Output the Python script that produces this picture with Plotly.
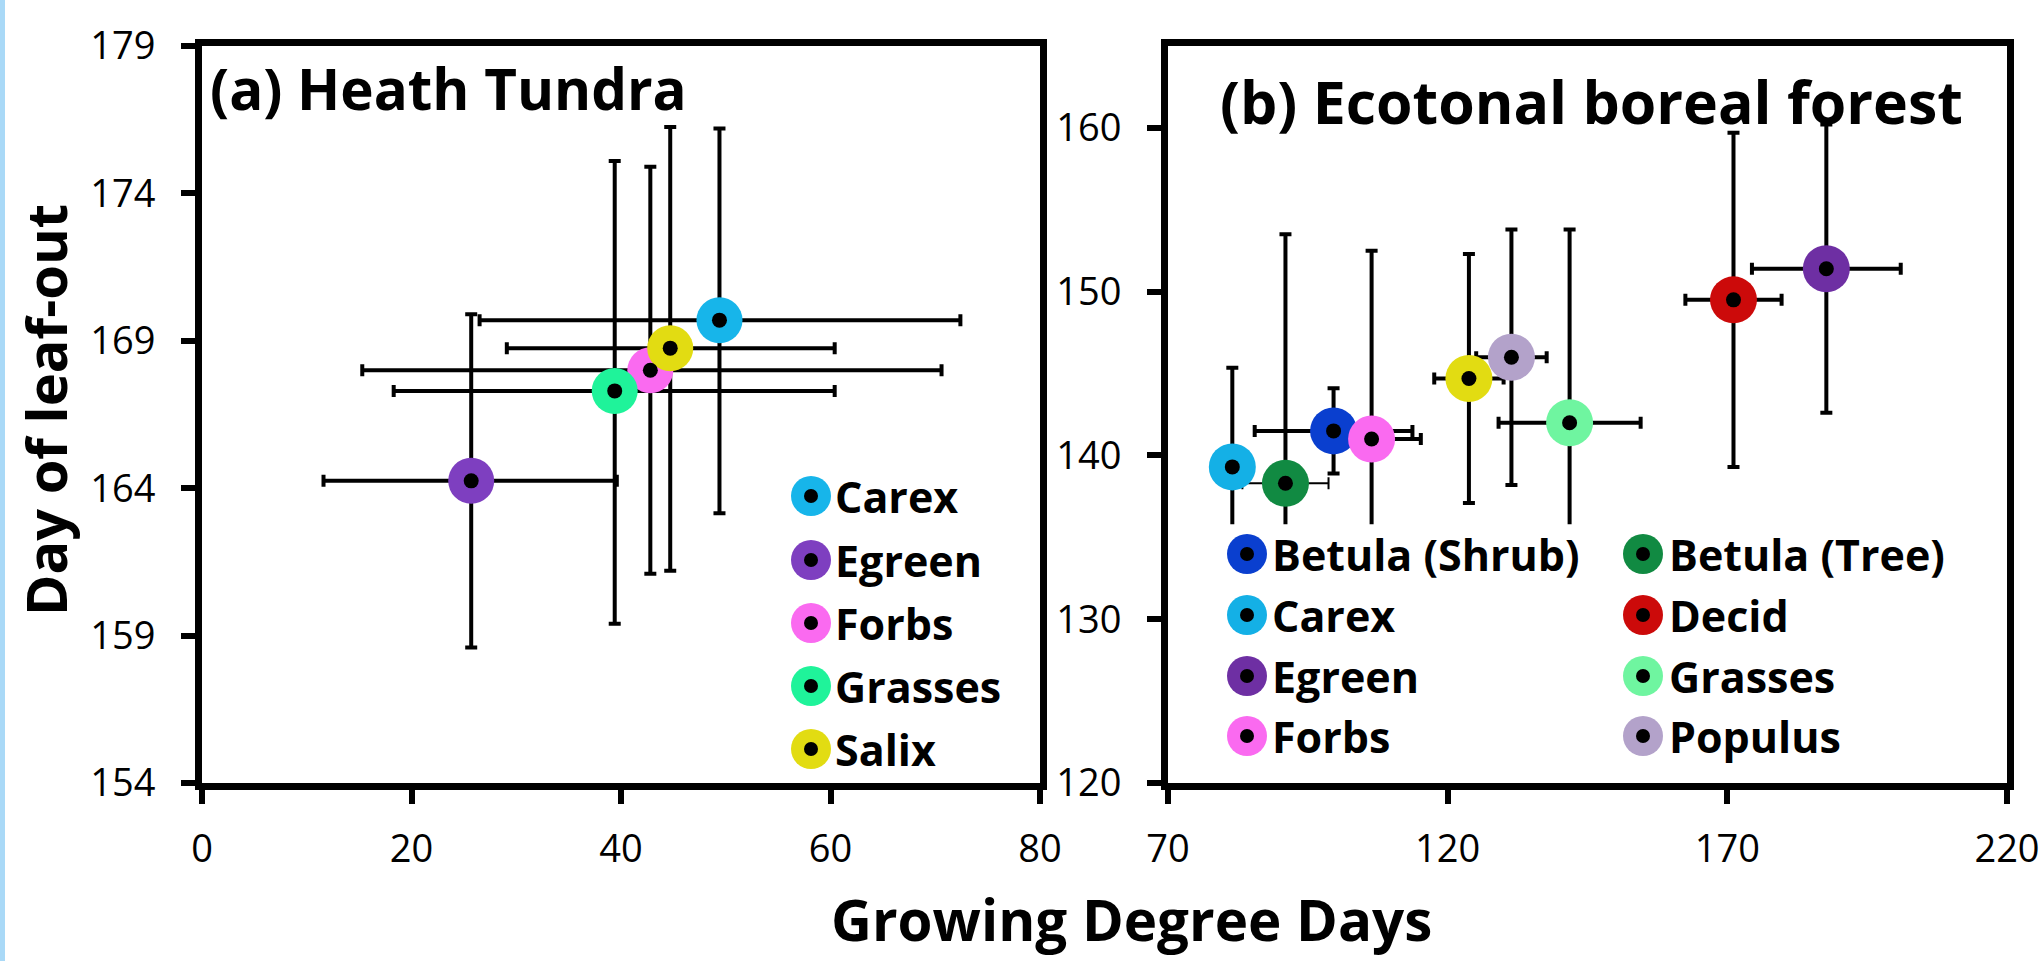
import plotly.graph_objects as go

W, H = 2039, 961

# ---------------- data: panel (a) Heath Tundra ----------------
a_species = ["Carex", "Egreen", "Forbs", "Grasses", "Salix"]
a_gdd = [49.4, 25.7, 42.8, 39.4, 44.7]
a_gdd_err_plus = [23.0, 13.9, 27.8, 21.0, 15.7]
a_gdd_err_minus = [22.9, 14.1, 27.5, 21.1, 15.6]
a_day = [169.7, 164.25, 168.0, 167.3, 168.75]
a_day_err_plus = [6.5, 5.65, 6.9, 7.8, 7.5]
a_day_err_minus = [6.55, 5.65, 6.9, 7.9, 7.55]

# ---------------- data: panel (b) Ecotonal boreal forest ----------------
b_species = ["Carex", "Betula (Tree)", "Betula (Shrub)", "Forbs", "Salix",
             "Populus", "Grasses", "Decid", "Egreen"]
b_gdd = [81.5, 91.0, 99.6, 106.4, 123.8, 131.4, 141.8, 171.1, 187.7]
b_gdd_err = [3.0, 7.7, 14.1, 8.8, 6.2, 6.3, 12.7, 8.6, 13.3]
b_day = [139.3, 138.3, 141.5, 141.0, 144.7, 146.0, 142.0, 149.5, 151.4]
b_day_err = [6.05, 15.2, 2.6, 11.5, 7.6, 7.8, 11.8, 10.2, 8.8]

# legend order (b) and (a)
a_legend = ["Carex", "Egreen", "Forbs", "Grasses", "Salix"]
b_legend_col1 = ["Betula (Shrub)", "Carex", "Egreen", "Forbs"]
b_legend_col2 = ["Betula (Tree)", "Decid", "Grasses", "Populus"]

# ---------------- styles ----------------
a_colors = {"Carex": "#17b5ea", "Egreen": "#7e3fc0", "Forbs": "#fa6af0",
            "Grasses": "#1ff39a", "Salix": "#e2dc12"}
b_colors = {"Carex": "#14b0e6", "Betula (Tree)": "#118a42", "Betula (Shrub)": "#0a3fcf",
            "Forbs": "#fa6af0", "Salix": "#e2dc12", "Populus": "#b3a2ca",
            "Grasses": "#6ff5a0", "Decid": "#cc0a0a", "Egreen": "#6e2fa3"}
thin_xerr = {"Betula (Tree)"}

FONT = "Open Sans"
fig = go.Figure()

# --- panel a: error bars, markers, dots
fig.add_trace(go.Scatter(
    x=a_gdd, y=a_day, mode="markers", xaxis="x", yaxis="y",
    marker=dict(size=1, color="rgba(0,0,0,0)"),
    error_x=dict(type="data", symmetric=False, array=a_gdd_err_plus,
                 arrayminus=a_gdd_err_minus, color="black", thickness=4, width=6),
    error_y=dict(type="data", symmetric=False, array=a_day_err_plus,
                 arrayminus=a_day_err_minus, color="black", thickness=4, width=6),
    showlegend=False, hoverinfo="skip"))
fig.add_trace(go.Scatter(
    x=a_gdd, y=a_day, mode="markers", xaxis="x", yaxis="y", text=a_species,
    marker=dict(size=46, color=[a_colors[s] for s in a_species], line=dict(width=0)),
    showlegend=False))
fig.add_trace(go.Scatter(
    x=a_gdd, y=a_day, mode="markers", xaxis="x", yaxis="y",
    marker=dict(size=15, color="black", line=dict(width=0)),
    showlegend=False, hoverinfo="skip"))

# --- panel b
thick_idx = [i for i, s in enumerate(b_species) if s not in thin_xerr]
thin_idx = [i for i, s in enumerate(b_species) if s in thin_xerr]
for idx, thx in ((thick_idx, 4), (thin_idx, 2)):
    fig.add_trace(go.Scatter(
        x=[b_gdd[i] for i in idx], y=[b_day[i] for i in idx], mode="markers",
        xaxis="x2", yaxis="y2", marker=dict(size=1, color="rgba(0,0,0,0)"),
        error_x=dict(type="data", array=[b_gdd_err[i] for i in idx],
                     color="black", thickness=thx, width=6),
        showlegend=False, hoverinfo="skip"))
fig.add_trace(go.Scatter(
    x=b_gdd, y=b_day, mode="markers", xaxis="x2", yaxis="y2",
    marker=dict(size=1, color="rgba(0,0,0,0)"),
    error_y=dict(type="data", array=b_day_err, color="black", thickness=4, width=6),
    showlegend=False, hoverinfo="skip"))
fig.add_trace(go.Scatter(
    x=b_gdd, y=b_day, mode="markers", xaxis="x2", yaxis="y2", text=b_species,
    marker=dict(size=47, color=[b_colors[s] for s in b_species], line=dict(width=0)),
    showlegend=False))
fig.add_trace(go.Scatter(
    x=b_gdd, y=b_day, mode="markers", xaxis="x2", yaxis="y2",
    marker=dict(size=15, color="black", line=dict(width=0)),
    showlegend=False, hoverinfo="skip"))

# ---------------- axes ----------------
ya_dom = [1 - 783 / H, 1 - 46 / H]
common = dict(showgrid=False, zeroline=False, showline=True, linecolor="black",
              linewidth=7, mirror=True, ticks="outside", ticklen=14, tickwidth=6,
              automargin=False, ticklabeloverflow="allow",
              tickcolor="black", tickfont=dict(family=FONT, size=38, color="black"))
fig.update_layout(
    xaxis=dict(domain=[202 / W, 1040 / W], range=[0, 80], tickvals=[0, 20, 40, 60, 80],
               ticklabelstandoff=12, **common),
    yaxis=dict(domain=ya_dom, range=[154, 179], tickvals=[154, 159, 164, 169, 174, 179],
               ticklabelstandoff=18, **common),
    xaxis2=dict(domain=[1168 / W, 2007 / W], range=[70, 220],
                tickvals=[70, 120, 170, 220], anchor="y2", ticklabelstandoff=12, **common),
    yaxis2=dict(domain=ya_dom, range=[120, 165], tickvals=[120, 130, 140, 150, 160],
                anchor="x2", ticklabelstandoff=18, **common),
)

shapes = []
annotations = []

# light blue strip at left edge
shapes.append(dict(type="rect", xref="paper", yref="paper", x0=0, x1=5 / W, y0=0, y1=1,
                   fillcolor="#a9d9f7", line=dict(width=0), layer="below"))

# white box behind legend (b)
shapes.append(dict(type="rect", xref="x2", yref="y2", x0=70.8, x1=219.2, y0=120.35,
                   y1=135.8, fillcolor="white", line=dict(width=0), layer="above"))


def legend_entry(cx, cy, tx, label, color, fsize):
    shapes.append(dict(type="circle", xref="paper", yref="paper",
                       xsizemode="pixel", ysizemode="pixel",
                       xanchor=cx / W, yanchor=1 - cy / H,
                       x0=-20, x1=20, y0=-20, y1=20,
                       fillcolor=color, line=dict(width=0), layer="above"))
    shapes.append(dict(type="circle", xref="paper", yref="paper",
                       xsizemode="pixel", ysizemode="pixel",
                       xanchor=cx / W, yanchor=1 - cy / H,
                       x0=-7, x1=7, y0=-7, y1=7,
                       fillcolor="black", line=dict(width=0), layer="above"))
    annotations.append(dict(x=tx / W, y=1 - cy / H, xref="paper", yref="paper",
                            xanchor="left", yanchor="middle", showarrow=False,
                            text="<b>%s</b>" % label,
                            font=dict(family=FONT, size=fsize, color="black")))


a_rows = [496, 560, 623, 686, 749]
for lab, cy in zip(a_legend, a_rows):
    legend_entry(811, cy, 833, lab, a_colors[lab], 43)

b_rows = [554, 615, 676, 736]
for lab, cy in zip(b_legend_col1, b_rows):
    legend_entry(1247, cy, 1270, lab, b_colors[lab], 43)
for lab, cy in zip(b_legend_col2, b_rows):
    legend_entry(1643, cy, 1667, lab, b_colors[lab], 43)

# panel titles
annotations.append(dict(x=208 / W, y=1 - 88 / H, xref="paper", yref="paper",
                        xanchor="left", yanchor="middle", showarrow=False,
                        text="<b>(a) Heath Tundra</b>",
                        font=dict(family=FONT, size=56.5, color="black")))
annotations.append(dict(x=1218 / W, y=1 - 101 / H, xref="paper", yref="paper",
                        xanchor="left", yanchor="middle", showarrow=False,
                        text="<b>(b) Ecotonal boreal forest</b>",
                        font=dict(family=FONT, size=59, color="black")))
# axis titles
annotations.append(dict(x=1131 / W, y=1 - 919 / H, xref="paper", yref="paper",
                        xanchor="center", yanchor="middle", showarrow=False,
                        text="<b>Growing Degree Days</b>",
                        font=dict(family=FONT, size=56.5, color="black")))
annotations.append(dict(x=45 / W, y=1 - 410 / H, xref="paper", yref="paper",
                        xanchor="center", yanchor="middle", showarrow=False,
                        textangle=-90, text="<b>Day of leaf-out</b>",
                        font=dict(family=FONT, size=56, color="black")))

fig.update_layout(width=W, height=H,
                  margin=dict(l=0, r=0, t=0, b=0, autoexpand=False),
                  paper_bgcolor="white", plot_bgcolor="white",
                  shapes=shapes, annotations=annotations, showlegend=False)

fig.write_html("out.html", config={"responsive": False})
